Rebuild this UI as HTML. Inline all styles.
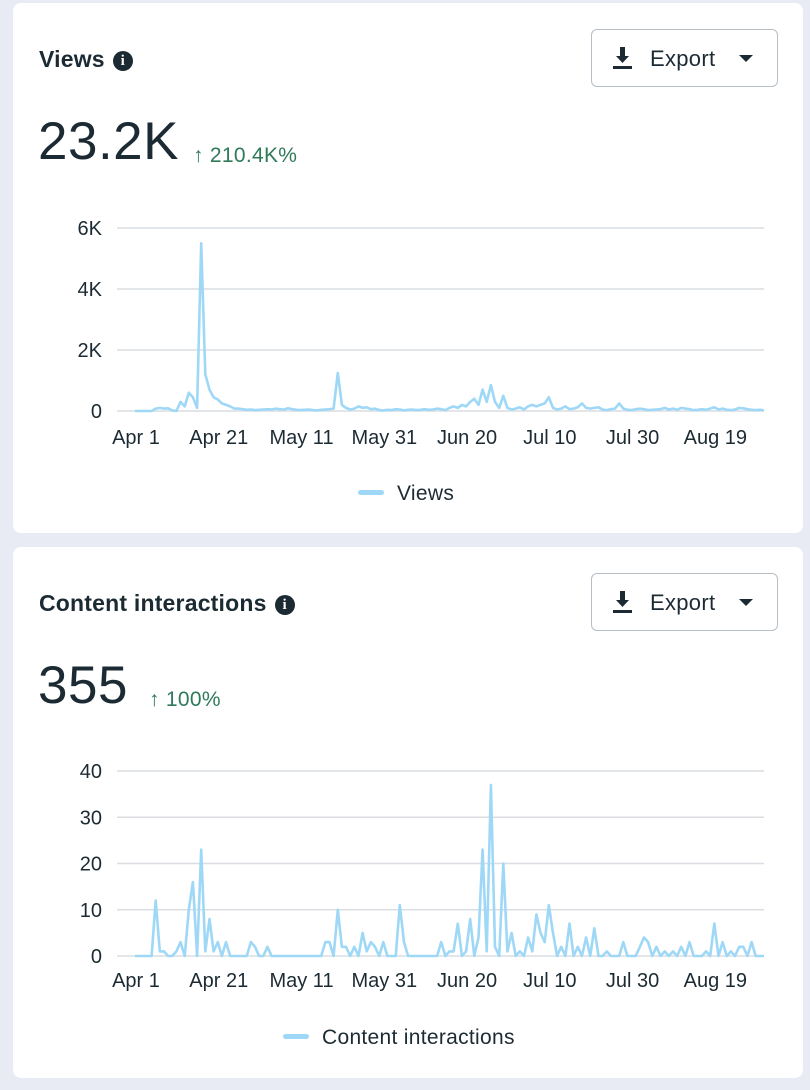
<!DOCTYPE html>
<html><head><meta charset="utf-8">
<style>
*{box-sizing:border-box;margin:0;padding:0}
body{width:810px;height:1090px;background:#e9ebf4;font-family:"Liberation Sans",sans-serif;position:relative;overflow:hidden;color:#1c2b33}
.card{position:absolute;left:13px;width:790px;background:#fff;border-radius:8px}
.title{position:absolute;left:26px;font-size:23px;font-weight:bold;color:#1c2b33;letter-spacing:0.2px}
.info{display:inline-block;width:20px;height:20px;border-radius:50%;background:#1c2b33;color:#fff;font-size:15px;font-weight:bold;text-align:center;line-height:20px;vertical-align:2px;margin-left:8px;font-family:"Liberation Serif",serif}
.btn{position:absolute;left:578px;width:187px;height:58px;border:1px solid #b8bec6;border-radius:6px;font-size:22px;color:#1c2b33}
.btn span{position:absolute;left:58px;top:16px;letter-spacing:0.3px}
.big{position:absolute;left:25px;font-size:53px;color:#1c2b33;letter-spacing:0.5px}
.delta{position:absolute;font-size:21px;color:#2f7a5a;letter-spacing:0.3px}
svg{position:absolute;left:0;top:0}
.lg{position:absolute;font-size:21px;color:#1c2b33;letter-spacing:0.3px}
</style></head><body>
<div class="card" style="top:3px;height:530px">
 <div class="title" style="top:43px">Views<span class="info">i</span></div>
 <div class="btn" style="top:26px">
  <svg width="30" height="30" style="left:18px;top:14px"><path d="M10 3h5v9h4l-6.5 7-6.5-7h4z" fill="#1c2b33"/><rect x="3" y="22" width="19" height="3" fill="#1c2b33"/></svg>
  <span>Export</span>
  <svg width="20" height="20" style="left:145px;top:20px"><path d="M2 5h14l-7 7z" fill="#1c2b33"/></svg>
 </div>
 <div class="big" style="top:108px">23.2K</div>
 <div class="delta" style="left:180px;top:141px">↑ 210.4K%</div>
</div>
<div class="card" style="top:547px;height:531px">
 <div class="title" style="top:43px">Content interactions<span class="info">i</span></div>
 <div class="btn" style="top:26px">
  <svg width="30" height="30" style="left:18px;top:14px"><path d="M10 3h5v9h4l-6.5 7-6.5-7h4z" fill="#1c2b33"/><rect x="3" y="22" width="19" height="3" fill="#1c2b33"/></svg>
  <span>Export</span>
  <svg width="20" height="20" style="left:145px;top:20px"><path d="M2 5h14l-7 7z" fill="#1c2b33"/></svg>
 </div>
 <div class="big" style="top:108px">355</div>
 <div class="delta" style="left:136px;top:141px">↑ 100%</div>
</div>
<svg id="chart" width="810" height="1090"></svg>
<div class="lg" style="left:358px;top:482px"><span style="display:inline-block;width:26px;height:5px;background:#9fd8f7;border-radius:3px;vertical-align:5px;margin-right:13px"></span>Views</div>
<div class="lg" style="left:283px;top:1026px"><span style="display:inline-block;width:26px;height:5px;background:#9fd8f7;border-radius:3px;vertical-align:5px;margin-right:13px"></span>Content interactions</div>
<script>
const xTickLabels=["Apr 1","Apr 21","May 11","May 31","Jun 20","Jul 10","Jul 30","Aug 19"];
const xTickDays=[0,20,40,60,80,100,120,140];
const viewsTicks=[0,2000,4000,6000];
const viewsTickLabels=["0","2K","4K","6K"];
const interTicks=[0,10,20,30,40];
const interTickLabels=["0","10","20","30","40"];
const views=[0,0,0,0,0,80,100,80,90,20,
0,300,150,600,450,100,5500,1200,700,450,
380,250,200,150,80,80,60,40,50,30,
40,50,60,50,80,60,50,90,60,40,
30,40,50,30,20,40,50,60,80,1250,
200,100,50,80,150,100,120,60,80,30,
20,40,30,60,50,20,40,50,30,40,
60,40,50,80,60,30,100,150,100,200,
150,300,400,200,700,300,850,300,100,500,
100,50,80,120,50,150,200,150,200,250,
450,100,50,80,150,60,80,120,250,100,
80,100,120,50,30,60,80,250,80,40,
30,60,80,60,30,40,50,60,100,50,
80,40,100,80,60,30,40,60,40,80,
120,50,80,40,30,50,100,90,60,40,
30,40,20];
const interactions=[0,0,0,0,0,12,1,1,0,0,
1,3,0,10,16,0,23,1,8,1,
3,0,3,0,0,0,0,0,3,2,
0,0,2,0,0,0,0,0,0,0,
0,0,0,0,0,0,3,3,0,10,
2,2,0,2,0,5,1,3,2,0,
3,0,0,0,11,3,0,0,0,0,
0,0,0,0,3,0,1,1,7,0,
1,8,0,4,23,1,37,2,0,20,
1,5,0,1,0,4,1,9,5,3,
11,5,0,2,0,7,0,2,0,4,
0,6,0,0,1,0,0,0,3,0,
0,0,2,4,3,0,2,0,1,0,
1,0,2,0,3,0,0,0,1,0,
7,0,3,0,1,0,2,2,0,3,
0,0,0];
const svg=document.getElementById('chart');
const NS='http://www.w3.org/2000/svg';
function mk(tag,attrs){const e=document.createElementNS(NS,tag);for(const k in attrs)e.setAttribute(k,attrs[k]);svg.appendChild(e);return e;}
function draw(prefix,data,ticks,tickLabels,maxV,y0,yTop,labelY){
  const x=i=>135+i*(764-135)/152;
  const y=v=>y0-(v/maxV)*(y0-yTop);
  ticks.forEach((t,k)=>{
    const g=mk('line',{x1:117,x2:764,y1:y(t),y2:y(t),stroke:'#dadde1','stroke-width':1.5});
    
    
    const tx=mk('text',{x:102,y:y(t)+7,'text-anchor':'end','font-size':20,fill:'#1c2b33','font-family':'Liberation Sans, sans-serif'});
    tx.textContent=tickLabels[k];
    
    
  });
  xTickDays.forEach((d,k)=>{
    const tx=mk('text',{x:x(d)+1,y:labelY,'text-anchor':'middle','font-size':20,fill:'#1c2b33','font-family':'Liberation Sans, sans-serif'});
    tx.textContent=xTickLabels[k];
    
    
  });
  const pts=data.map((v,i)=>x(i).toFixed(1)+','+y(v).toFixed(1)).join(' ');
  const p=mk('polyline',{points:pts,fill:'none',stroke:'#9fd8f7','stroke-width':2.6,'stroke-linejoin':'round'});
  
  
}
draw('views',views,viewsTicks,viewsTickLabels,6000,411,228,444);
draw('interactions',interactions,interTicks,interTickLabels,40,956,771,987);
</script>
</body></html>
